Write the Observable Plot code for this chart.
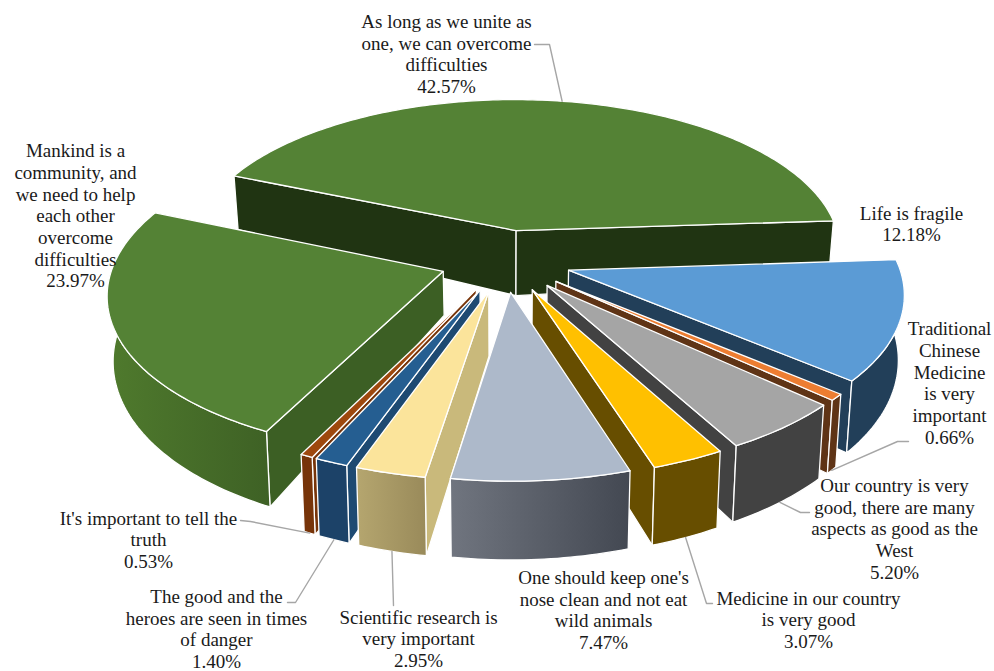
<!DOCTYPE html>
<html>
<head>
<meta charset="utf-8">
<script src="https://cdn.jsdelivr.net/npm/d3@7"></script>
<script src="https://cdn.jsdelivr.net/npm/@observablehq/plot@0.6"></script>
<style>
  html, body { margin: 0; padding: 0; background: #fff; }
  svg { display: block; }
</style>
</head>
<body>
<div id="chart"></div>
<script>
// Survey responses, clockwise from the back-left of the pie
const categories = [
  "As long as we unite as\none, we can overcome\ndifficulties",
  "Life is fragile",
  "Traditional\nChinese\nMedicine\nis very\nimportant",
  "Our country is very\ngood, there are many\naspects as good as the\nWest",
  "Medicine in our country\nis very good",
  "One should keep one's\nnose clean and not eat\nwild animals",
  "Scientific research is\nvery important",
  "The good and the\nheroes are seen in times\nof danger",
  "It's important to tell the\ntruth",
  "Mankind is a\ncommunity, and\nwe need to help\neach other\novercome\ndifficulties"
];
const shares = [42.57, 12.18, 0.66, 5.20, 3.07, 7.47, 2.95, 1.40, 0.53, 23.97];

// Fills: top surface, radial faces, curved wall
const topFills = ["#548235", "#5b9bd5", "#ed7d31", "#a5a5a5", "#ffc000", "#adb9ca", "#fbe49b", "#255e91", "#9e480e", "#548235"];
const faceFills = ["#203412", "#223f59", "#5f3416", "#424242", "#674e00", "#555b66", "#c9b97b", "#1e4a72", "#773409", "#3c5f24"];
const wallFills = ["#203412", "#223f59", "#5f3416", "#424242", "#674e00", "url(#wallNose)", "url(#wallSci)", "#1c4268", "#773409", "url(#wallMankind)"];

// Label block centres and the elbow points of their leaders
const labelSpots = [
  [446, 53], [911, 223], [949, 382], [894, 528], [808, 619],
  [603, 609], [418, 638], [216, 628], [148, 539], [75, 215]
];
const leaderElbows = [
  [[534, 44], [549, 44]], null, [[908, 441], [897, 441]], [[809, 512], [800, 512]], [[712, 603], [706, 603]],
  null, [[393, 605]], [[287, 602], [295, 602]], [[240, 520], [250, 521]], null
];
// Painting order, far slices first
const paintOrder = [0, 9, 1, 2, 3, 4, 8, 7, 6, 5];

// Tilted-disc projection of the exploded pie
const cx = 505, cy = 260, R = 329, tilt = 0.472, persp = 0.13, explode = 0.2, startBearing = -67.1;
const rad = Math.PI / 180;
const wallDepth = (Y) => 62 + 14 * Y;
const apexDepth = new Map([[0, 65], [9, 44]]);

function project(X, Y, lower = false, depth = wallDepth(Y)) {
  const s = 1 / (1 - persp * Y);
  const px = R * X * s, py = R * tilt * Y * s;
  return lower ? {x: cx + px * 0.985, y: cy + py + depth} : {x: cx + px, y: cy + py};
}

let running = startBearing;
const slices = shares.map((share, i) => {
  const a0 = running, a1 = running + share * 3.6;
  running = a1;
  const mid = (a0 + a1) / 2;
  const ox = explode * Math.sin(mid * rad), oy = -explode * Math.cos(mid * rad);
  const rim = (a) => [ox + Math.sin(a * rad), oy - Math.cos(a * rad)];
  return {i, a0, a1, mid, ox, oy, rim};
});

function arc(sl, a0, a1) {
  const n = Math.max(2, Math.ceil(Math.abs(a1 - a0)));
  return d3.range(n + 1).map((k) => sl.rim(a0 + (a1 - a0) * k / n));
}

function faces(sl) {
  const out = [];
  const apexTop = project(sl.ox, sl.oy);
  const apexBottom = project(sl.ox, sl.oy, true, apexDepth.get(sl.i) ?? wallDepth(sl.oy));
  const radial = (a) => {
    const [X, Y] = sl.rim(a);
    return [apexTop, project(X, Y), project(X, Y, true), apexBottom];
  };
  const startNorm = (sl.a0 + 360) % 360;
  if (startNorm > 185) out.push({pts: radial(sl.a0), fill: faceFills[sl.i]});
  if (sl.a1 < 170) out.push({pts: radial(sl.a1), fill: faceFills[sl.i]});
  // the curved wall runs on behind the top surface at both silhouette ends;
  // a slice centred at the back shows no wall at all
  const w0 = Math.max(sl.a0, 80), w1 = Math.min(sl.a1, 300);
  if (sl.mid > 90 && w1 > w0) {
    const rimPts = arc(sl, w0, w1);
    out.push({
      pts: [...rimPts.map(([X, Y]) => project(X, Y)),
            ...rimPts.slice().reverse().map(([X, Y]) => project(X, Y, true))],
      fill: wallFills[sl.i]
    });
  }
  out.push({
    pts: [apexTop, ...arc(sl, sl.a0, sl.a1).map(([X, Y]) => project(X, Y))],
    fill: topFills[sl.i]
  });
  return out;
}

const polygons = paintOrder.flatMap((i) => faces(slices[i]));

// Leaders end on the slice outline at its middle bearing
const leaders = slices.flatMap((sl) => {
  const elbows = leaderElbows[sl.i];
  if (!elbows) return [];
  const [X, Y] = sl.rim(sl.mid);
  const end = project(X, Y, Y > 0);
  return [[...elbows.map(([x, y]) => ({x, y})), end]];
});

const labels = slices.map((sl) => ({
  x: labelSpots[sl.i][0],
  y: labelSpots[sl.i][1],
  text: `${categories[sl.i]}\n${shares[sl.i].toFixed(2)}%`
}));

const gradient = (id, from, to) =>
  `<linearGradient id="${id}" x1="0" x2="1" y1="0" y2="0"><stop offset="0" stop-color="${from}"/><stop offset="1" stop-color="${to}"/></linearGradient>`;

const chart = Plot.plot({
  width: 994,
  height: 671,
  margin: 0,
  style: {background: "#fff"},
  x: {domain: [0, 994], range: [0, 994], axis: null},
  y: {domain: [0, 671], range: [0, 671], axis: null},
  marks: [
    () => d3.create("svg:defs").html(
      gradient("wallNose", "#70757f", "#434852") +
      gradient("wallSci", "#b5a66f", "#998a5a") +
      gradient("wallMankind", "#4f7a2d", "#3e6125")
    ).node(),
    ...polygons.map((p) => Plot.line(p.pts, {
      x: "x", y: "y", fill: p.fill, stroke: "#fff", strokeWidth: 1.3, curve: "linear-closed"
    })),
    ...leaders.map((pts) => Plot.line(pts, {
      x: "x", y: "y", stroke: "#a6a6a6", strokeWidth: 1.4
    })),
    Plot.text(labels, {
      x: "x", y: "y", text: "text",
      textAnchor: "middle", lineAnchor: "middle", lineHeight: 1.14,
      fontSize: 19, fontFamily: "Liberation Serif", fill: "#1a1a1a"
    })
  ]
});
document.getElementById("chart").append(chart);
</script>
</body>
</html>
